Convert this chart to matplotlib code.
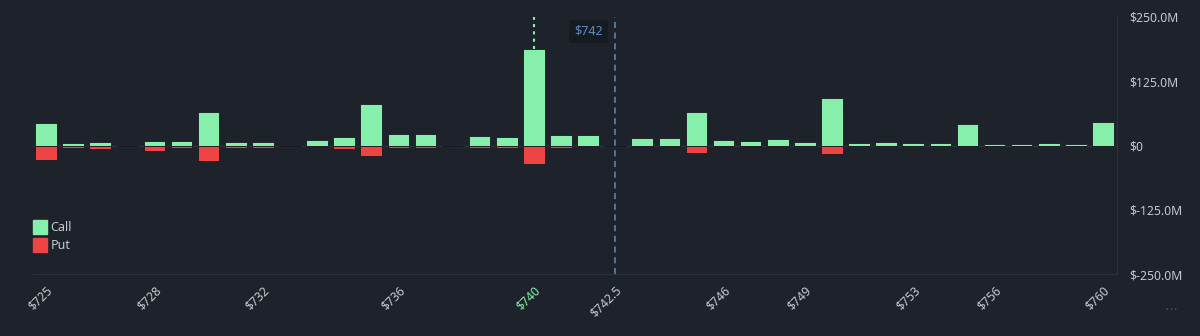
import matplotlib
matplotlib.use("Agg")
import matplotlib.pyplot as plt
from matplotlib.lines import Line2D

# strikes on a categorical axis (half strikes have no volume)
strikes = [725, 726, 727, 727.5, 728, 729, 730, 731, 732, 732.5,
           733, 734, 735, 736, 737, 737.5, 738, 739, 740, 741,
           742, 742.5, 743, 744, 745, 746, 747, 748, 749, 750,
           751, 752, 753, 754, 755, 756, 757, 758, 759, 760]
# values in $M
calls = [44.6, 4.6, 6, 0, 9, 8, 66, 6, 7, 0,
         11, 17.4, 81, 22, 22, 0, 19, 16, 187, 20,
         20, 0, 14, 15.5, 65, 10, 8, 12, 6.4, 92,
         5, 7, 4, 4, 41, 2.5, 2.5, 5, 2, 46.5]
puts = [-27.7, -4, -6.4, 0, -10, -4, -31, -5, -5, 0,
        -3, -6.4, -21, -5, -5, 0, -4, -4, -35.5, -4,
        -3, 0, -3, -3, -14, -2, -3, -2.5, -1, -16,
        -1, -1, -0.5, -0.5, -1, -0.3, -0.3, -0.5, -0.3, -1]
shown_ticks = [725, 728, 732, 736, 740, 742.5, 746, 749, 753, 756, 760]
yticks = [-250, -125, 0, 125, 250]
ytick_labels = ["\\$-250.0M", "\\$-125.0M", "\\$0", "\\$125.0M", "\\$250.0M"]
spot = 742
max_strike = 740

bg = "#1e232b"
call_c = "#86efac"
put_c = "#ef4444"
txt_c = "#c4c9d0"
grid_c = "#2c333d"

plt.rcParams['font.family'] = ['Noto Sans', 'DejaVu Sans']

fig = plt.figure(figsize=(12, 3.36), dpi=100)
fig.patch.set_facecolor(bg)
ax = fig.add_axes([32.5/1200, 1-274/336, (1116.5-32.5)/1200, (274-17)/336])
ax.set_facecolor(bg)

x = list(range(len(strikes)))
ax.axhline(0, color=grid_c, lw=1, zorder=1)
ax.bar(x, calls, width=0.8, color=call_c, edgecolor="#151a20", linewidth=0.6, zorder=3)
ax.bar(x, puts, width=0.8, color=put_c, edgecolor="#151a20", linewidth=0.6, zorder=3)

ax.set_xlim(-0.5, len(strikes)-0.5)
ax.set_ylim(-250, 250)

# max strike marker
mi = strikes.index(max_strike)
ax.plot([mi, mi], [calls[mi], 250], color=call_c, lw=1.5, ls=(0, (1.5, 2)), zorder=2)

# spot line sits on the 742.5 slot
si = strikes.index(742.5)
ax.plot([si, si], [-250, 250], color="#5b8cc0", lw=1.1, ls=(0, (4, 3)), zorder=2, clip_on=False)
ax.text(si-0.45, 222, "\\$" + str(spot), color="#5b8cc0", fontsize=9, fontweight="bold",
        ha="right", va="center",
        bbox=dict(boxstyle="square,pad=0.4", fc="#161b22", ec="none"))

ticks = [strikes.index(s) for s in shown_ticks]
labels = ["\\$" + (str(s) if s % 1 else str(int(s))) for s in shown_ticks]
ax.set_xticks(ticks)
ax.set_xticklabels(labels, rotation=45, ha="right", rotation_mode="anchor",
                   fontsize=8.8, color=txt_c)
for lab, s in zip(ax.get_xticklabels(), shown_ticks):
    if s == max_strike:
        lab.set_color(call_c)
ax.tick_params(axis="x", length=0, pad=7)

ax.yaxis.tick_right()
ax.set_yticks(yticks)
ax.set_yticklabels(ytick_labels, fontsize=8.8, color=txt_c)
ax.tick_params(axis="y", length=0, pad=9)

for side in ["top", "left"]:
    ax.spines[side].set_visible(False)
ax.spines["bottom"].set_color(grid_c)
ax.spines["right"].set_color(grid_c)

handles = [Line2D([], [], marker="s", ls="none", ms=9.5, mfc=call_c, mec=call_c, label="Call"),
           Line2D([], [], marker="s", ls="none", ms=9.5, mfc=put_c, mec=put_c, label="Put")]
leg = ax.legend(handles=handles, loc="lower left", bbox_to_anchor=(0.001, 0.085),
                frameon=False, fontsize=9, labelcolor=txt_c, handletextpad=0.35,
                labelspacing=0.4, handlelength=1.0, borderpad=0, borderaxespad=0)

fig.text(1171/1200, 1-310/336, "\u2022 \u2022 \u2022", color="#4e555f", fontsize=5,
         ha="center", va="center")

fig.savefig("out.png", dpi=100, facecolor=bg)
